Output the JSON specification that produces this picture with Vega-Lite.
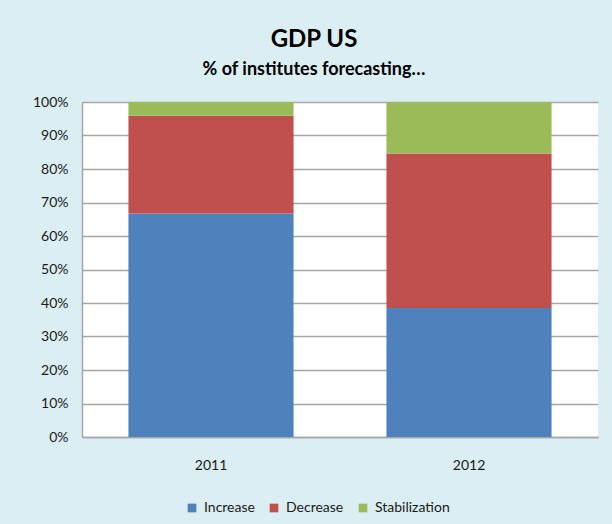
{
  "$schema": "https://vega.github.io/schema/vega-lite/v6.json",
  "width": 516,
  "height": 335,
  "autosize": {"type": "none"},
  "padding": {"left": 82, "top": 102, "right": 14, "bottom": 87},
  "background": "#DBEEF4",
  "title": {
    "text": "GDP US",
    "subtitle": "% of institutes forecasting…",
    "anchor": "middle",
    "frame": "group",
    "dx": -26,
    "offset": 16,
    "font": "Lato",
    "fontSize": 24,
    "fontWeight": "bold",
    "color": "#000000",
    "subtitleFont": "Lato",
    "subtitleFontSize": 18,
    "subtitleFontWeight": "bold",
    "subtitleColor": "#000000",
    "subtitlePadding": 9
  },
  "data": {
    "values": [
      {"year": "2011", "category": "Increase", "order": 1, "share": 0.667},
      {"year": "2011", "category": "Decrease", "order": 2, "share": 0.292},
      {"year": "2011", "category": "Stabilization", "order": 3, "share": 0.041},
      {"year": "2012", "category": "Increase", "order": 1, "share": 0.385},
      {"year": "2012", "category": "Decrease", "order": 2, "share": 0.461},
      {"year": "2012", "category": "Stabilization", "order": 3, "share": 0.154}
    ]
  },
  "mark": {"type": "bar"},
  "encoding": {
    "x": {
      "field": "year",
      "type": "nominal",
      "scale": {"paddingInner": 0.36, "paddingOuter": 0.18},
      "axis": {
        "title": null,
        "labelAngle": 0,
        "ticks": false,
        "labelPadding": 21,
        "labelFont": "Lato",
        "labelFontSize": 14,
        "labelColor": "#1A1A1A",
        "domainColor": "#A6A6A6",
        "domainWidth": 1.5
      }
    },
    "y": {
      "field": "share",
      "type": "quantitative",
      "stack": "zero",
      "scale": {"domain": [0, 1], "nice": false},
      "axis": {
        "title": null,
        "format": ".0%",
        "values": [0, 0.1, 0.2, 0.3, 0.4, 0.5, 0.6, 0.7, 0.8, 0.9, 1],
        "labelOverlap": false,
        "ticks": false,
        "labelPadding": 14,
        "labelFont": "Lato",
        "labelFontSize": 14,
        "labelColor": "#1A1A1A",
        "gridColor": "#A6A6A6",
        "gridWidth": 1.5,
        "domainColor": "#A6A6A6",
        "domainWidth": 1.5
      }
    },
    "color": {
      "field": "category",
      "type": "nominal",
      "scale": {
        "domain": ["Increase", "Decrease", "Stabilization"],
        "range": ["#4F81BD", "#C0504D", "#9BBB59"]
      },
      "legend": {
        "title": null,
        "orient": "none",
        "direction": "horizontal",
        "legendX": 103,
        "legendY": 399,
        "symbolType": "square",
        "symbolSize": 75,
        "symbolStrokeWidth": 0,
        "labelFont": "Lato",
        "labelFontSize": 14,
        "labelColor": "#1A1A1A",
        "labelOffset": 5,
        "columnPadding": 12
      }
    },
    "order": {"field": "order", "type": "quantitative"}
  },
  "config": {
    "view": {"fill": "#FFFFFF", "stroke": null}
  }
}
